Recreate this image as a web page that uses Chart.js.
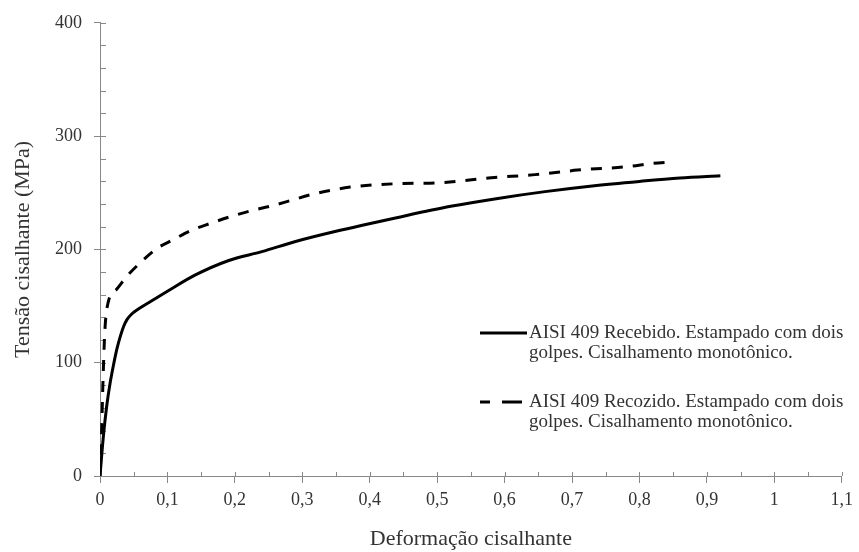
<!DOCTYPE html>
<html>
<head>
<meta charset="utf-8">
<script src="https://cdn.jsdelivr.net/npm/chart.js@4/dist/chart.umd.min.js"></script>
<style>
  body { margin: 0; background: #fff; }
</style>
</head>
<body>
<canvas id="grafico" width="859" height="552"></canvas>
<script>
var serif = "'Times New Roman', 'Liberation Serif', serif";

var strainRecebido = [0, 0.005, 0.01, 0.015, 0.02, 0.025, 0.03, 0.035, 0.04, 0.047, 0.056, 0.075, 0.1, 0.14, 0.19, 0.24, 0.29, 0.35, 0.44, 0.52, 0.59, 0.66, 0.73, 0.8, 0.86, 0.92];
var stressRecebido = [0, 35, 62, 82, 98, 112, 123, 132, 138, 143, 147, 154, 163, 177, 190, 198, 207, 216, 228, 238, 245, 251, 256, 260, 263, 265];

var strainRecozido = [0, 0.002, 0.004, 0.007, 0.012, 0.025, 0.041, 0.063, 0.085, 0.11, 0.136, 0.164, 0.194, 0.223, 0.252, 0.282, 0.311, 0.371, 0.44, 0.508, 0.576, 0.645, 0.679, 0.708, 0.782, 0.821, 0.846];
var stressRecozido = [0, 30, 75, 126, 153, 165, 177, 190, 201, 209, 217, 223, 229, 234, 238, 243, 248, 255, 258, 259, 263, 266, 268, 270, 273, 276, 277];

var legendLabels = [
  ["AISI 409 Recebido. Estampado com dois", "golpes. Cisalhamento monotônico."],
  ["AISI 409 Recozido. Estampado com dois", "golpes. Cisalhamento monotônico."]
];

var xTitle = "Deformação cisalhante";
var yTitle = "Tensão cisalhante (MPa)";

function toPoints(xs, ys) {
  return xs.map(function (x, i) { return { x: x, y: ys[i] }; });
}

// ticks pequenos para dentro (maiores e menores)
var minorTicks = {
  id: "minorTicks",
  beforeDatasetsDraw: function (chart) {
    var ctx = chart.ctx;
    var xs = chart.scales.x, ys = chart.scales.y;
    ctx.save();
    ctx.strokeStyle = "#888";
    ctx.lineWidth = 1;
    ctx.beginPath();
    for (var i = 0; i <= 22; i++) {
      var px = Math.round(xs.getPixelForValue(i * 0.05)) + 0.5;
      ctx.moveTo(px, ys.bottom);
      ctx.lineTo(px, ys.bottom - 4);
    }
    for (var j = 0; j <= 20; j++) {
      var py = Math.round(ys.getPixelForValue(j * 20)) + 0.5;
      ctx.moveTo(xs.left, py);
      ctx.lineTo(xs.left + 6, py);
    }
    ctx.stroke();
    ctx.restore();
  }
};

var insideLegend = {
  id: "insideLegend",
  afterDraw: function (chart) {
    var ctx = chart.ctx;
    var x0 = 480, rows = [333, 402];
    var sampleDash = [[], [10, 12, 20, 10]];
    ctx.save();
    ctx.font = "19px " + serif;
    ctx.textBaseline = "middle";
    chart.data.datasets.forEach(function (ds, i) {
      var y = rows[i];
      ctx.strokeStyle = ds.borderColor;
      ctx.lineWidth = ds.borderWidth;
      ctx.setLineDash(sampleDash[i]);
      ctx.beginPath();
      ctx.moveTo(x0, y);
      ctx.lineTo(x0 + 47, y);
      ctx.stroke();
      ctx.setLineDash([]);
      ctx.fillStyle = "#333";
      legendLabels[i].forEach(function (line, k) {
        ctx.fillText(line, x0 + 49, y + k * 20);
      });
    });
    ctx.restore();
  }
};

var ctx = document.getElementById("grafico").getContext("2d");
var myChart = new Chart(ctx, {
  type: "line",
  data: {
    datasets: [
      {
        label: legendLabels[0].join(" "),
        data: toPoints(strainRecebido, stressRecebido),
        borderColor: "#000",
        borderWidth: 3,
        pointRadius: 0,
        cubicInterpolationMode: "monotone",
      },
      {
        label: legendLabels[1].join(" "),
        data: toPoints(strainRecozido, stressRecozido),
        borderColor: "#000",
        borderWidth: 3,
        borderDash: [11, 10],
        pointRadius: 0,
        cubicInterpolationMode: "monotone",
      },
    ],
  },
  options: {
    responsive: false,
    animation: false,
    layout: { padding: { left: 0, right: 9, top: 22, bottom: 0 } },
    plugins: {
      legend: { display: false },
      tooltip: { enabled: false },
    },
    scales: {
      x: {
        type: "linear",
        min: 0,
        max: 1.1,
        afterFit: function (scale) { scale.height = 76; },
        border: { display: true, color: "#888", width: 1 },
        grid: { drawOnChartArea: false, drawTicks: true, tickLength: 7, color: "#888" },
        ticks: {
          stepSize: 0.1,
          padding: 6,
          color: "#333",
          font: { family: serif, size: 18 },
          maxRotation: 0,
          callback: function (v) {
            return String(Math.round(v * 10) / 10).replace(".", ",");
          },
        },
        title: {
          display: true,
          text: xTitle,
          color: "#333",
          font: { family: serif, size: 22 },
          padding: { top: 0, bottom: 0 },
        },
      },
      y: {
        min: 0,
        max: 400,
        afterFit: function (scale) { scale.width = 100; },
        border: { display: true, color: "#888", width: 1 },
        grid: { drawOnChartArea: false, drawTicks: true, tickLength: 6, color: "#888" },
        ticks: {
          stepSize: 100,
          padding: 12,
          color: "#333",
          font: { family: serif, size: 18 },
        },
        title: {
          display: true,
          text: yTitle,
          color: "#333",
          font: { family: serif, size: 22 },
          padding: { top: 10, bottom: 0 },
        },
      },
    },
  },
  plugins: [minorTicks, insideLegend],
});
</script>
</body>
</html>
